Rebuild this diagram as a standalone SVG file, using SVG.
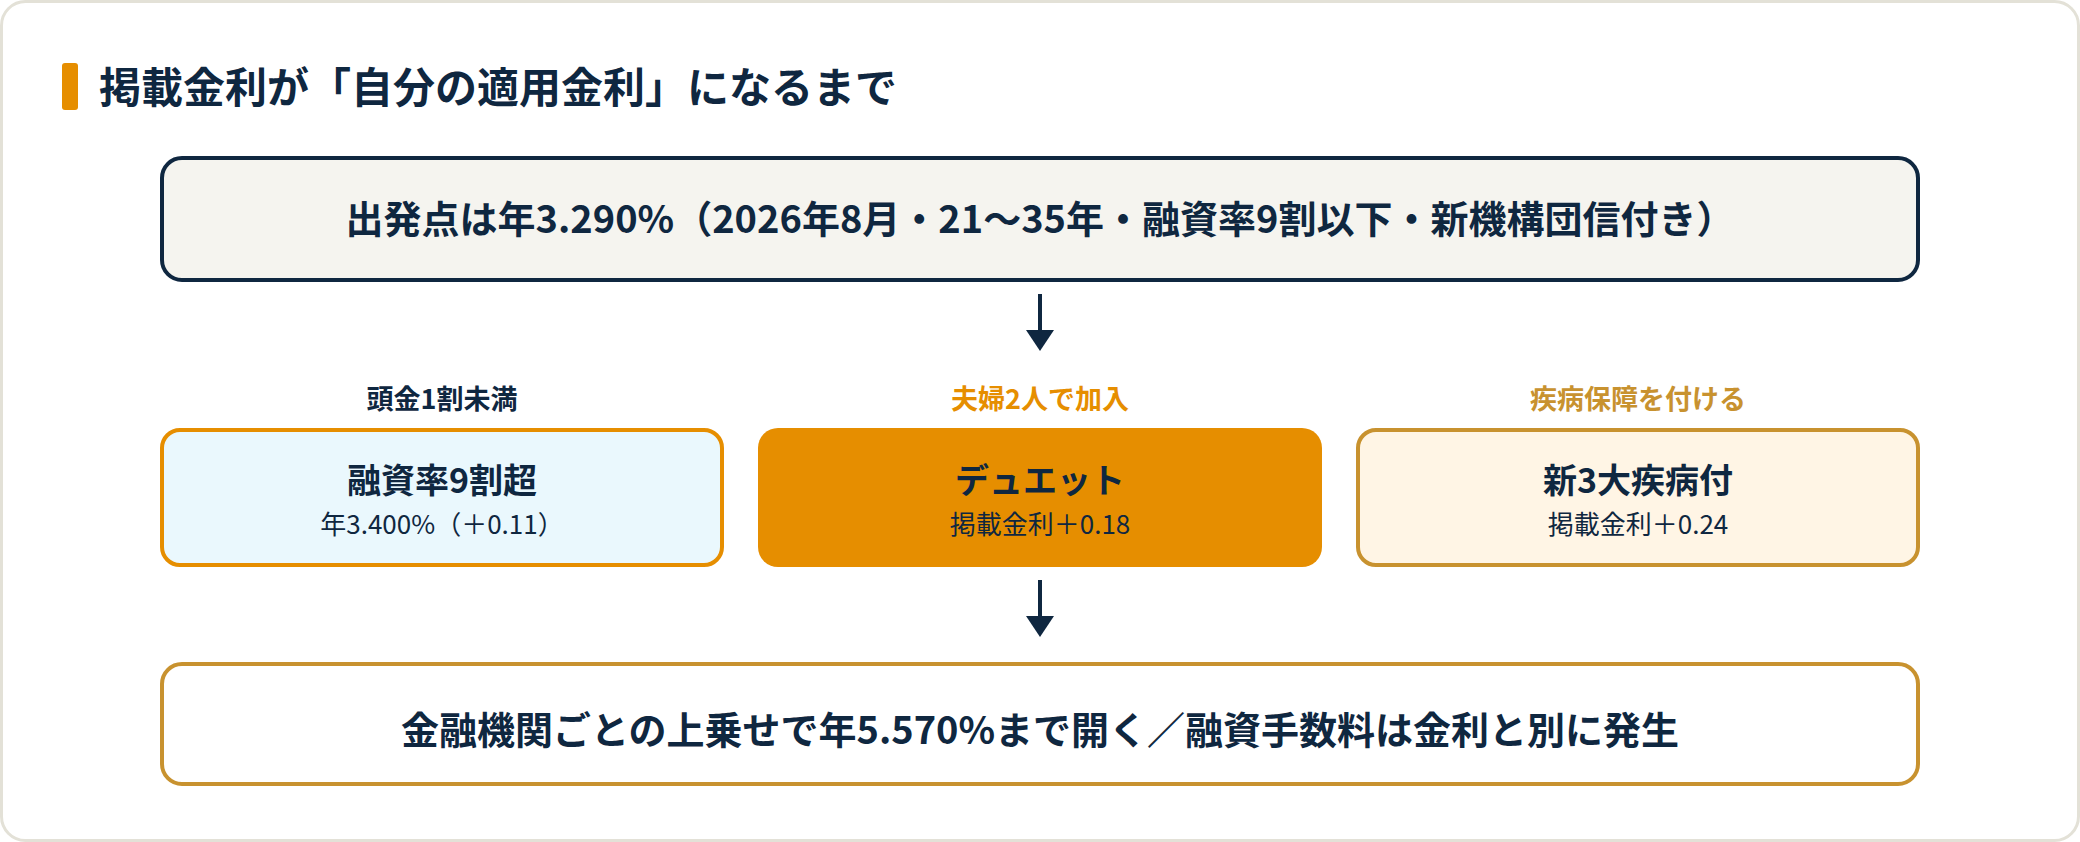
<svg xmlns="http://www.w3.org/2000/svg" width="2080" height="842" viewBox="0 0 2080 842">
  <style>
    text { font-family: "Noto Sans CJK JP", "Noto Sans", sans-serif; fill: #0f2740; text-anchor: middle; }
    .title { font-size: 42px; font-weight: 700; text-anchor: start; }
    .main { font-size: 38px; font-weight: 700; }
    .label { font-size: 27px; font-weight: 700; }
    .btitle { font-size: 34px; font-weight: 700; }
    .bsub { font-size: 26px; font-weight: 400; }
    .navy { fill: #0f2740; }
    .orange { fill: #e68e00; }
    .gold { fill: #c8922f; }
  </style>
  <defs>
    <marker id="arrow" markerUnits="userSpaceOnUse" markerWidth="21" markerHeight="28" viewBox="0 0 21 28" refX="0" refY="14" orient="auto">
      <path d="M0,0 L21,14 L0,28 z" fill="#0f2740"/>
    </marker>
  </defs>

  <rect x="1.5" y="1.5" width="2077" height="839" rx="24" fill="#ffffff" stroke="#e3e1d7" stroke-width="3"/>

  <g id="heading">
    <rect x="62" y="63" width="16" height="47" rx="3" fill="#e68e00"/>
    <text class="title" x="99" y="103">掲載金利が「自分の適用金利」になるまで</text>
  </g>

  <g id="start">
    <rect x="162" y="158" width="1756" height="122" rx="20" fill="#f5f4ef" stroke="#0f2740" stroke-width="4"/>
    <text class="main" x="1040" y="233">出発点は年3.290%（2026年8月・21～35年・融資率9割以下・新機構団信付き）</text>
  </g>

  <g id="opt-ltv">
    <text class="label navy" x="442" y="409">頭金1割未満</text>
    <rect x="162" y="430" width="560" height="135" rx="18" fill="#eaf8fd" stroke="#e68e00" stroke-width="4"/>
    <text class="btitle" x="442" y="493">融資率9割超</text>
    <text class="bsub" x="442" y="534">年3.400%（＋0.11）</text>
  </g>

  <g id="opt-duet">
    <text class="label orange" x="1040" y="409">夫婦2人で加入</text>
    <rect x="758" y="428" width="564" height="139" rx="20" fill="#e68e00"/>
    <text class="btitle" x="1040" y="493">デュエット</text>
    <text class="bsub" x="1040" y="534">掲載金利＋0.18</text>
  </g>

  <g id="opt-illness">
    <text class="label gold" x="1638" y="409">疾病保障を付ける</text>
    <rect x="1358" y="430" width="560" height="135" rx="18" fill="#fff5e5" stroke="#c8922f" stroke-width="4"/>
    <text class="btitle" x="1638" y="493">新3大疾病付</text>
    <text class="bsub" x="1638" y="534">掲載金利＋0.24</text>
  </g>

  <g id="result">
    <rect x="162" y="664" width="1756" height="120" rx="20" fill="#ffffff" stroke="#c8922f" stroke-width="4"/>
    <text class="main" x="1040" y="744">金融機関ごとの上乗せで年5.570%まで開く／融資手数料は金利と別に発生</text>
  </g>

  <g id="connectors" stroke="#0f2740" stroke-width="4" fill="none">
    <line x1="1040" y1="294" x2="1040" y2="330" marker-end="url(#arrow)"/>
    <line x1="1040" y1="580" x2="1040" y2="616" marker-end="url(#arrow)"/>
  </g>
</svg>
